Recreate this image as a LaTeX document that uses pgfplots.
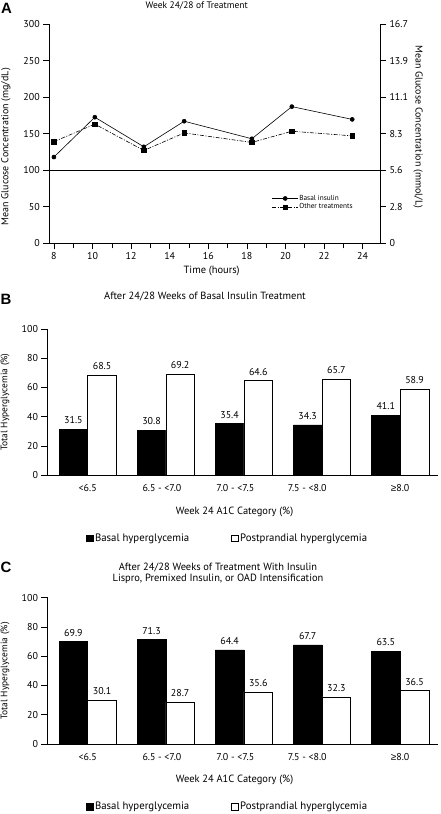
\documentclass[border=0pt]{standalone}
\usepackage{fontspec}
\setmainfont{PT Sans}
\newfontfamily\arialfont{Liberation Sans}
\usepackage{pgfplots}
\pgfplotsset{compat=1.18}
\newcommand{\fs}[1]{\fontsize{#1}{#1}\selectfont}
\pgfplotsset{sqlegend/.style={legend image code/.code={\draw[##1, line width=0.5pt] (0bp,-3.2bp) rectangle (6.4bp,3.2bp);}}}

\begin{document}
\begin{tikzpicture}
\useasboundingbox (0,0) rectangle (441bp,-814bp);

% ---------------- Panel A ----------------
\node[font=\arialfont\bfseries\fs{15}] at (6.5bp,-8.5bp) {A};
\node[font=\fs{9.5}] at (196.7bp,-6bp) {Week 24/28 of Treatment};

\begin{axis}[
  at={(49.3bp,-243.3bp)}, anchor=south west,
  scale only axis, width=330.7bp, height=219.3bp,
  xmin=7.76, xmax=24.9, ymin=0, ymax=300,
  axis x line*=bottom, axis y line*=left,
  axis line style={-, line width=0.7pt},
  xtick={8,10,...,24}, minor xtick={9,11,...,23},
  ytick={0,50,...,300},
  tick align=outside, major tick length=6bp, minor tick length=5bp,
  tick style={black, line width=0.6pt},
  ticklabel style={font=\fs{10}},
  /pgf/number format/assume math mode=true,
  xlabel={Time (hours)},
  xlabel style={at={(axis description cs:0.491,-0.125)}, anchor=center, font=\fs{10.5}},
  ylabel={Mean Glucose Concentration (mg/dL)},
  ylabel style={at={(axis description cs:-0.131,0.4405)}, anchor=center, font=\fs{10}},
  legend style={at={(axis description cs:0.673,0.1847)}, anchor=west, draw=none, fill=none,
    font=\fs{7.3}, inner sep=0pt, row sep=0pt,
    nodes={inner sep=1pt}},
  legend cell align=left,
  legend image code/.code={\draw[mark repeat=2,mark phase=2,#1] plot coordinates {(0bp,0bp) (12.85bp,0bp) (25.7bp,0bp)};},
  clip=false
]
\addplot[black, line width=0.8pt, forget plot] coordinates {(7.76,100) (24.9,100)};
\addplot[black, line width=0.6pt, mark=*, mark size=2bp] coordinates {
  (8,118) (10.12,172.5) (12.66,132) (14.75,167) (18.26,143) (20.33,187) (23.46,169.5)};
\addlegendentry{Basal insulin}
\addplot[black, line width=0.6pt, dash pattern=on 4bp off 1.5bp on 1bp off 1.5bp, mark=square*, mark size=2.3bp, mark options={solid}] coordinates {
  (8,139) (10.12,163) (12.66,127) (14.75,151) (18.26,138) (20.33,153.3) (23.46,147)};
\addlegendentry{Other treatments}
\end{axis}

\begin{axis}[
  at={(49.3bp,-243.3bp)}, anchor=south west,
  scale only axis, width=330.7bp, height=219.3bp,
  xmin=7.76, xmax=24.9, ymin=0, ymax=300,
  axis x line=none, axis y line*=right,
  axis line style={-, line width=0.7pt},
  ytick={0,50,...,300}, yticklabels={0,2.8,5.6,8.3,11.1,13.9,16.7},
  tick align=outside, major tick length=6bp,
  tick style={black, line width=0.6pt},
  ticklabel style={font=\fs{10}},
  ylabel={Mean Glucose Concentration (mmol/L)},
  ylabel style={at={(axis description cs:1.115,0.532)}, anchor=center, rotate=180, font=\fs{10}},
]
\addplot[draw=none] coordinates {(8,0)};
\end{axis}

% ---------------- Panel B ----------------
\node[font=\arialfont\bfseries\fs{15}] at (6bp,-299.5bp) {B};
\node[font=\fs{10.5}] at (205bp,-297bp) {After 24/28 Weeks of Basal Insulin Treatment};

\begin{axis}[
  at={(47.5bp,-475bp)}, anchor=south west,
  scale only axis, width=390.5bp, height=146bp,
  xmin=-0.515, xmax=4.485, ymin=0, ymax=100,
  axis x line*=bottom, axis y line*=left,
  axis line style={-, line width=0.7pt},
  xtick={0,0.95,1.89,2.81,4},
  xticklabels={{<6.5},{6.5 - <7.0},{7.0 - <7.5},{7.5 - <8.0},{{\arialfont ≥}8.0}},
  x tick style={draw=none},
  ytick={0,20,...,100},
  tick align=outside, major tick length=6bp,
  y tick style={black, line width=0.6pt},
  ticklabel style={font=\fs{10}},
  /pgf/number format/assume math mode=true,
  xlabel={Week 24 A1C Category (\%)},
  xlabel style={at={(axis description cs:0.479,-0.251)}, anchor=center, font=\fs{10.5}},
  ylabel={Total Hyperglycemia (\%)},
  ylabel style={at={(axis description cs:-0.109,0.5)}, anchor=center, font=\fs{9.5}},
  legend columns=2,
  legend style={at={(axis description cs:0.0986,-0.432)}, anchor=west, draw=none, fill=none,
    font=\fs{10.8}, inner sep=0pt, /tikz/every even column/.append style={column sep=40bp}},
  clip=false,
  nodes near coords style={font=\fs{10}, yshift=1.5bp, /pgf/number format/.cd, fixed, fixed zerofill, precision=1},
]
\addplot[ybar, bar width=0.367, bar shift=0, fill=black, draw=black, line width=0.5pt,
  nodes near coords, sqlegend]
  coordinates {(-0.18375,31.5) (0.81625,30.8) (1.81625,35.4) (2.81625,34.3) (3.81625,41.1)};
\addlegendentry{Basal hyperglycemia}
\addplot[ybar, bar width=0.367, bar shift=0, fill=white, draw=black, line width=0.5pt,
  nodes near coords, sqlegend]
  coordinates {(0.18375,68.5) (1.18375,69.2) (2.18375,64.6) (3.18375,65.7) (4.18375,58.9)};
\addlegendentry{Postprandial hyperglycemia}
\end{axis}

% ---------------- Panel C ----------------
\node[font=\arialfont\bfseries\fs{15}] at (6bp,-567.5bp) {C};
\node[font=\fs{10.5}, align=center] at (218bp,-573.3bp) {After 24/28 Weeks of Treatment With Insulin\\[1bp] Lispro, Premixed Insulin, or OAD Intensification};

\begin{axis}[
  at={(47.5bp,-744bp)}, anchor=south west,
  scale only axis, width=390.5bp, height=146.3bp,
  xmin=-0.515, xmax=4.485, ymin=0, ymax=100,
  axis x line*=bottom, axis y line*=left,
  axis line style={-, line width=0.7pt},
  xtick={0,0.95,1.89,2.81,4},
  xticklabels={{<6.5},{6.5 - <7.0},{7.0 - <7.5},{7.5 - <8.0},{{\arialfont ≥}8.0}},
  x tick style={draw=none},
  ytick={0,20,...,100},
  tick align=outside, major tick length=6bp,
  y tick style={black, line width=0.6pt},
  ticklabel style={font=\fs{10}},
  /pgf/number format/assume math mode=true,
  xlabel={Week 24 A1C Category (\%)},
  xlabel style={at={(axis description cs:0.479,-0.246)}, anchor=center, font=\fs{10.5}},
  ylabel={Total Hyperglycemia (\%)},
  ylabel style={at={(axis description cs:-0.109,0.5)}, anchor=center, font=\fs{9.5}},
  legend columns=2,
  legend style={at={(axis description cs:0.0986,-0.4286)}, anchor=west, draw=none, fill=none,
    font=\fs{10.8}, inner sep=0pt, /tikz/every even column/.append style={column sep=40bp}},
  clip=false,
  nodes near coords style={font=\fs{10}, yshift=1.5bp, /pgf/number format/.cd, fixed, fixed zerofill, precision=1},
]
\addplot[ybar, bar width=0.367, bar shift=0, fill=black, draw=black, line width=0.5pt,
  nodes near coords, sqlegend]
  coordinates {(-0.18375,69.9) (0.81625,71.3) (1.81625,64.4) (2.81625,67.7) (3.81625,63.5)};
\addlegendentry{Basal hyperglycemia}
\addplot[ybar, bar width=0.367, bar shift=0, fill=white, draw=black, line width=0.5pt,
  nodes near coords, sqlegend]
  coordinates {(0.18375,30.1) (1.18375,28.7) (2.18375,35.6) (3.18375,32.3) (4.18375,36.5)};
\addlegendentry{Postprandial hyperglycemia}
\end{axis}

\end{tikzpicture}
\end{document}
